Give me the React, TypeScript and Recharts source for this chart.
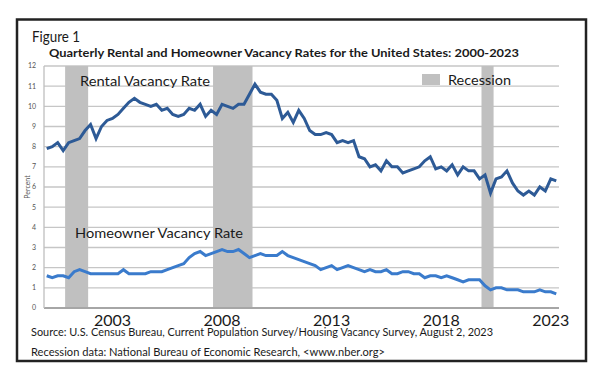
import React from 'react';
import { ComposedChart, Bar, Line, XAxis, YAxis, CartesianGrid } from 'recharts';

const quarterLabels: string[] = [];
for (let y = 2000; y <= 2023; y++) {
  for (let q = 1; q <= 4; q++) {
    if (y === 2023 && q > 2) break;
    quarterLabels.push(`${y}Q${q}`);
  }
}

const rentalVacancy = [
  7.9, 8.0, 8.2, 7.8,
  8.2, 8.3, 8.4, 8.8,
  9.1, 8.4, 9.0, 9.3,
  9.4, 9.6, 9.9, 10.2,
  10.4, 10.2, 10.1, 10.0,
  10.1, 9.8, 9.9, 9.6,
  9.5, 9.6, 9.9, 9.8,
  10.1, 9.5, 9.8, 9.6,
  10.1, 10.0, 9.9, 10.1,
  10.1, 10.6, 11.1, 10.7,
  10.6, 10.6, 10.3, 9.4,
  9.7, 9.2, 9.8, 9.4,
  8.8, 8.6, 8.6, 8.7,
  8.6, 8.2, 8.3, 8.2,
  8.3, 7.5, 7.4, 7.0,
  7.1, 6.8, 7.3, 7.0,
  7.0, 6.7, 6.8, 6.9,
  7.0, 7.3, 7.5, 6.9,
  7.0, 6.8, 7.1, 6.6,
  7.0, 6.8, 6.8, 6.4,
  6.6, 5.7, 6.4, 6.5,
  6.8, 6.2, 5.8, 5.6,
  5.8, 5.6, 6.0, 5.8,
  6.4, 6.3,
];

const homeownerVacancy = [
  1.6, 1.5, 1.6, 1.6,
  1.5, 1.8, 1.9, 1.8,
  1.7, 1.7, 1.7, 1.7,
  1.7, 1.7, 1.9, 1.7,
  1.7, 1.7, 1.7, 1.8,
  1.8, 1.8, 1.9, 2.0,
  2.1, 2.2, 2.5, 2.7,
  2.8, 2.6, 2.7, 2.8,
  2.9, 2.8, 2.8, 2.9,
  2.7, 2.5, 2.6, 2.7,
  2.6, 2.6, 2.6, 2.8,
  2.6, 2.5, 2.4, 2.3,
  2.2, 2.1, 1.9, 2.0,
  2.1, 1.9, 2.0, 2.1,
  2.0, 1.9, 1.8, 1.9,
  1.8, 1.8, 1.9, 1.7,
  1.7, 1.8, 1.8, 1.7,
  1.7, 1.5, 1.6, 1.6,
  1.5, 1.6, 1.5, 1.4,
  1.3, 1.4, 1.4, 1.4,
  1.1, 0.9, 1.0, 1.0,
  0.9, 0.9, 0.9, 0.8,
  0.8, 0.8, 0.9, 0.8,
  0.8, 0.7,
];

const recessionQuarters = [
  '2001Q1', '2001Q2', '2001Q3', '2001Q4',
  '2007Q4', '2008Q1', '2008Q2', '2008Q3', '2008Q4', '2009Q1', '2009Q2',
  '2020Q1', '2020Q2',
];

const xTickYears = ['2003', '2008', '2013', '2018', '2023'];
const yTicks = [0, 1, 2, 3, 4, 5, 6, 7, 8, 9, 10, 11, 12];

const data = quarterLabels.map((q, i) => ({
  q,
  rental: rentalVacancy[i],
  homeowner: homeownerVacancy[i],
  recession: recessionQuarters.includes(q) ? 12 : null,
}));

const FONT = 'Lato, "Liberation Sans", sans-serif';

const RecessionShape = (props: any) => {
  const { x, y, width, height } = props;
  if (!height || height <= 0) return null;
  return <rect x={x - 0.8} y={y} width={width + 1.6} height={height} fill="#c0c0c0" />;
};

export default function App() {
  return (
    <div style={{ position: 'absolute', left: 0, top: 0, width: 600, height: 377, background: '#fff' }}>
      <ComposedChart
        width={600}
        height={377}
        data={data}
        margin={{ top: 66, right: 41, bottom: 39, left: 14 }}
        barCategoryGap={0}
        barGap={0}
      >
        <CartesianGrid vertical={false} stroke="#c6c6c6" strokeWidth={1.3} />
        <XAxis
          dataKey="q"
          type="category"
          ticks={xTickYears.map((y) => `${y}Q1`)}
          interval={0}
          tickFormatter={(v: string) => v.slice(0, 4)}
          height={30}
          tickLine={false}
          tickSize={0}
          tickMargin={7}
          axisLine={{ stroke: '#a6a6a6', strokeWidth: 2 }}
          tick={{ fontSize: 16, fill: '#1a1a1a', fontFamily: FONT }}
        />
        <YAxis
          type="number"
          domain={[0, 12]}
          ticks={yTicks}
          interval={0}
          width={30}
          tickLine={false}
          tickSize={0}
          tickMargin={8}
          axisLine={{ stroke: '#bfbfbf', strokeWidth: 1.3 }}
          tick={{ fontSize: 7, fill: '#555', fontFamily: FONT }}
        />
        <Bar dataKey="recession" fill="#c0c0c0" shape={RecessionShape} isAnimationActive={false} />
        <Line
          type="linear"
          dataKey="rental"
          stroke="#2d5a96"
          strokeWidth={3}
          dot={false}
          isAnimationActive={false}
        />
        <Line
          type="linear"
          dataKey="homeowner"
          stroke="#3a7bcc"
          strokeWidth={3}
          dot={false}
          isAnimationActive={false}
        />
      </ComposedChart>
      <svg
        width={600}
        height={377}
        style={{ position: 'absolute', left: 0, top: 0, pointerEvents: 'none' }}
        fontFamily={FONT}
      >
        <rect x={17} y={19.5} width={569} height={341.5} fill="none" stroke="#222" strokeWidth={2.5} />
        <text x={32} y={41.5} fontSize={15} fill="#1a1a1a" textLength={48} lengthAdjust="spacingAndGlyphs">
          Figure 1
        </text>
        <text x={49} y={57} fontSize={12} fontWeight="bold" fill="#1a1a1a" textLength={470} lengthAdjust="spacingAndGlyphs">
          Quarterly Rental and Homeowner Vacancy Rates for the United States: 2000-2023
        </text>
        <text
          x={0}
          y={0}
          fontSize={7}
          fill="#555"
          textAnchor="middle"
          transform="translate(29.5 187) rotate(-90)"
        >
          Percent
        </text>
        <rect x={422} y={74} width={18} height={11} fill="#c0c0c0" />
        <text x={448} y={84.5} fontSize={14} fill="#1a1a1a" textLength={63} lengthAdjust="spacingAndGlyphs">
          Recession
        </text>
        <text x={80} y={86} fontSize={14} fill="#1a1a1a" textLength={130} lengthAdjust="spacingAndGlyphs">
          Rental Vacancy Rate
        </text>
        <text x={75} y={238.3} fontSize={14} fill="#1a1a1a" textLength={168} lengthAdjust="spacingAndGlyphs">
          Homeowner Vacancy Rate
        </text>
        <text x={31} y={336} fontSize={10.5} fill="#1a1a1a" textLength={462} lengthAdjust="spacingAndGlyphs">
          Source: U.S. Census Bureau, Current Population Survey/Housing Vacancy Survey, August 2, 2023
        </text>
        <text x={31} y={356} fontSize={10.5} fill="#1a1a1a" textLength={354} lengthAdjust="spacingAndGlyphs">
          Recession data: National Bureau of Economic Research, &lt;www.nber.org&gt;
        </text>
      </svg>
    </div>
  );
}
